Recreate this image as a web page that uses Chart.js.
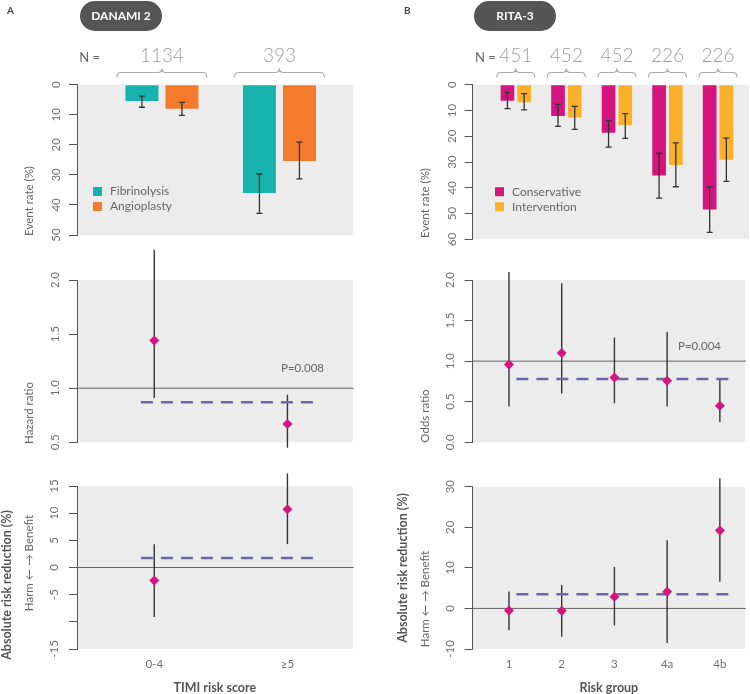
<!DOCTYPE html>
<html><head><meta charset="utf-8">
<script src="https://cdn.jsdelivr.net/npm/chart.js@4.4.1/dist/chart.umd.min.js"></script>
<style>
html,body{margin:0;padding:0;background:#fff}
body{width:750px;height:694px;position:relative;overflow:hidden;font-family:Lato,"Open Sans",sans-serif}
canvas{position:absolute}
.rot{position:absolute;white-space:nowrap;line-height:1;transform:translate(-50%,-50%) rotate(-90deg);color:#666;font-size:11.5px}
.bold{font-weight:bold;color:#555;font-size:12.5px}
.pill{position:absolute;top:1px;height:30px;width:82px;border-radius:15px;background:#555;color:#fff;font-weight:bold;font-size:12px;line-height:30px;text-align:center}
.panel{position:absolute;font-weight:bold;font-size:10px;color:#444}
.p{position:absolute;font-size:11.5px;color:#666;line-height:1}
</style></head>
<body>
<canvas id="barA" width="375" height="260" style="left:0;top:0"></canvas>
<canvas id="hrA" width="375" height="220" style="left:0;top:245px"></canvas>
<canvas id="arrA" width="375" height="229" style="left:0;top:465px"></canvas>
<canvas id="barB" width="375" height="260" style="left:375px;top:0"></canvas>
<canvas id="orB" width="375" height="220" style="left:375px;top:245px"></canvas>
<canvas id="arrB" width="375" height="229" style="left:375px;top:465px"></canvas>

<div class="panel" style="left:7px;top:4px">A</div>
<div class="pill" style="left:80px">DANAMI 2</div>
<div class="panel" style="left:404px;top:4px">B</div>
<div class="pill" style="left:474px">RITA-3</div>

<div class="p" style="left:281px;top:362px">P=0.008</div>
<div class="p" style="left:678px;top:340px">P=0.004</div>

<div class="rot" style="left:29px;top:201px">Event rate (%)</div>
<div class="rot" style="left:29px;top:413px">Hazard ratio</div>
<div class="rot bold" style="left:7px;top:585px">Absolute risk reduction (%)</div>
<div class="rot" style="left:29px;top:563px">Harm ← → Benefit</div>
<div class="rot" style="left:425px;top:203px">Event rate (%)</div>
<div class="rot" style="left:425px;top:416px">Odds ratio</div>
<div class="rot bold" style="left:403px;top:568px">Absolute risk reduction (%)</div>
<div class="rot" style="left:425px;top:599px">Harm ← → Benefit</div>

<script>
// ---------------- DATA ----------------
// Panel A: DANAMI 2
const danamiGroups = ['0-4', '≥5'];
const danamiN = [1134, 393];
const fibrinolysisRate = [5.4, 36.0];
const fibrinolysisLo = [3.8, 29.7];
const fibrinolysisHi = [7.5, 42.8];
const angioplastyRate = [8.0, 25.4];
const angioplastyLo = [5.9, 19.1];
const angioplastyHi = [10.2, 31.3];
const danamiHR = [1.44, 0.67];
const danamiHRLo = [0.91, 0.45];
const danamiHRHi = [2.28, 0.94];
const danamiHRPooled = 0.87;
const danamiARR = [-2.4, 10.7];
const danamiARRLo = [-9.1, 4.3];
const danamiARRHi = [4.3, 17.3];
const danamiARRPooled = 1.75;
const danamiEventTicks = [0, 10, 20, 30, 40, 50];
const danamiEventTickLabels = ['0', '10', '20', '30', '40', '50'];
const danamiHRTicks = [0.5, 1.0, 1.5, 2.0];
const danamiHRTickLabels = ['0.5', '1.0', '1.5', '2.0'];
const danamiARRTicks = [-15, -10, -5, 0, 5, 10, 15];
const danamiARRTickLabels = ['-15', '', '-5', '0', '5', '10', '15'];

// Panel B: RITA-3
const ritaGroups = ['1', '2', '3', '4a', '4b'];
const ritaN = [451, 452, 452, 226, 226];
const conservativeRate = [6.2, 12.1, 18.6, 35.2, 48.4];
const conservativeLo = [3.0, 7.6, 14.0, 26.6, 39.6];
const conservativeHi = [9.3, 16.2, 24.2, 44.0, 57.3];
const interventionRate = [6.8, 12.7, 15.6, 31.2, 29.1];
const interventionLo = [3.5, 8.4, 11.2, 22.6, 20.7];
const interventionHi = [9.8, 17.3, 20.8, 39.6, 37.5];
const ritaOR = [0.96, 1.10, 0.80, 0.76, 0.45];
const ritaORLo = [0.44, 0.60, 0.48, 0.44, 0.25];
const ritaORHi = [2.10, 1.96, 1.29, 1.36, 0.77];
const ritaORPooled = 0.78;
const ritaARR = [-0.5, -0.6, 2.9, 4.1, 19.2];
const ritaARRLo = [-5.4, -7.0, -4.2, -8.5, 6.6];
const ritaARRHi = [4.2, 5.8, 10.2, 16.8, 32.1];
const ritaARRPooled = 3.5;
const ritaEventTicks = [0, 10, 20, 30, 40, 50, 60];
const ritaEventTickLabels = ['0', '10', '20', '30', '40', '50', '60'];
const ritaORTicks = [0.0, 0.5, 1.0, 1.5, 2.0];
const ritaORTickLabels = ['0.0', '0.5', '1.0', '1.5', '2.0'];
const ritaARRTicks = [-10, 0, 10, 20, 30];
const ritaARRTickLabels = ['-10', '0', '10', '20', '30'];

// ---------------- STYLE ----------------
const FONT = 'Lato, "Open Sans", sans-serif';
const TEAL = '#16b3ae', ORANGE = '#f47b2b', MAGENTA = '#d5147f', YELLOW = '#fbb02a';
const POOLED = '#6b68a8';
Chart.defaults.font.family = FONT;
Chart.defaults.font.size = 11.5;
Chart.defaults.color = '#707070';
Chart.defaults.animation = false;

const bgPlugin = {
  id: 'plotBg',
  beforeDraw(chart) {
    const {ctx, chartArea: a} = chart;
    ctx.save();
    ctx.fillStyle = '#ececec';
    ctx.fillRect(a.left, a.top, a.right - a.left, a.bottom - a.top);
    ctx.restore();
  }
};

const errPlugin = {
  id: 'errBars',
  afterDatasetsDraw(chart) {
    const {ctx} = chart, y = chart.scales.y;
    ctx.save();
    ctx.strokeStyle = '#333'; ctx.lineWidth = 1.3;
    chart.data.datasets.forEach((ds, di) => {
      chart.getDatasetMeta(di).data.forEach((bar, i) => {
        const x = bar.x, y1 = y.getPixelForValue(ds.errLo[i]), y2 = y.getPixelForValue(ds.errHi[i]);
        ctx.beginPath();
        ctx.moveTo(x, y1); ctx.lineTo(x, y2);
        ctx.moveTo(x - 3, y1); ctx.lineTo(x + 3, y1);
        ctx.moveTo(x - 3, y2); ctx.lineTo(x + 3, y2);
        ctx.stroke();
      });
    });
    ctx.restore();
  }
};

const insideLegend = {
  id: 'insideLegend',
  afterDraw(chart, args, o) {
    const {ctx, chartArea: a} = chart;
    ctx.save();
    ctx.font = '12px ' + FONT;
    ctx.textBaseline = 'middle'; ctx.textAlign = 'left';
    chart.data.datasets.forEach((ds, i) => {
      const yy = a.top + o.dy + i * 15;
      ctx.fillStyle = ds.backgroundColor;
      ctx.fillRect(a.left + o.dx, yy - 4.5, 9, 9);
      ctx.fillStyle = '#666';
      ctx.fillText(ds.label, a.left + o.dx + 17, yy);
    });
    ctx.restore();
  }
};

const nPlugin = {
  id: 'nLabels',
  afterDraw(chart, args, o) {
    const {ctx, chartArea: a} = chart, x = chart.scales.x;
    ctx.save();
    ctx.textBaseline = 'middle';
    ctx.font = '13px ' + FONT; ctx.fillStyle = '#666'; ctx.textAlign = 'right';
    ctx.fillText('N =', a.left + 23, 58);
    ctx.font = '300 19px ' + FONT; ctx.fillStyle = '#9d9d9d'; ctx.textAlign = 'center';
    ctx.strokeStyle = '#aaa'; ctx.lineWidth = 1.2;
    o.n.forEach((n, i) => {
      const cx = x.getPixelForValue(i + 1);
      ctx.fillText(String(n), cx, 55.5);
      const x0 = cx - o.half, x1 = cx + o.half, yb = 72.5, r = 4;
      ctx.beginPath();
      ctx.moveTo(x0, yb + 5);
      ctx.quadraticCurveTo(x0, yb, x0 + r, yb);
      ctx.lineTo(cx - r, yb);
      ctx.quadraticCurveTo(cx, yb, cx, yb - 4);
      ctx.quadraticCurveTo(cx, yb, cx + r, yb);
      ctx.lineTo(x1 - r, yb);
      ctx.quadraticCurveTo(x1, yb, x1, yb + 5);
      ctx.stroke();
    });
    ctx.restore();
  }
};

const ciPlugin = {
  id: 'ci',
  beforeDatasetsDraw(chart, args, o) {
    const {ctx, chartArea: a} = chart, x = chart.scales.x, y = chart.scales.y;
    ctx.save();
    const ry = y.getPixelForValue(o.ref);
    ctx.strokeStyle = '#666'; ctx.lineWidth = 1;
    ctx.beginPath(); ctx.moveTo(a.left, ry); ctx.lineTo(a.right + 1, ry); ctx.stroke();
    const ds = chart.data.datasets[0];
    ctx.strokeStyle = '#333'; ctx.lineWidth = 1.4;
    ds.data.forEach((p, i) => {
      const px = x.getPixelForValue(p.x);
      ctx.beginPath();
      ctx.moveTo(px, y.getPixelForValue(ds.ciLo[i]));
      ctx.lineTo(px, y.getPixelForValue(ds.ciHi[i]));
      ctx.stroke();
    });
    ctx.restore();
  }
};

function yAxis(ticks, labels, reverse, width) {
  return {
    type: 'linear', min: ticks[0], max: ticks[ticks.length - 1], reverse, offset: false,
    afterBuildTicks: s => { s.ticks = ticks.map(v => ({value: v})); },
    ticks: {autoSkip: false, minRotation: 90, maxRotation: 90, crossAlign: 'center', padding: 6,
            color: '#707070', font: {size: 11.5}, callback: (v, i) => labels[i]},
    grid: {drawOnChartArea: false, drawTicks: true, tickLength: 8, color: '#555', lineWidth: 1},
    border: {display: true, color: '#555', width: 1},
    afterFit: s => { s.width = width; }
  };
}

function barChart(id, c) {
  return new Chart(document.getElementById(id), {
    type: 'bar',
    data: {
      datasets: c.series.map(s => ({
        label: s.label, backgroundColor: s.color, borderWidth: 0,
        data: s.rate.map((v, i) => ({x: i + 1, y: v})),
        errLo: s.lo, errHi: s.hi,
        categoryPercentage: c.catPct, barPercentage: c.barPct
      }))
    },
    options: {
      responsive: false, animation: false, events: [],
      layout: {padding: c.padding},
      plugins: {legend: {display: false}, tooltip: {enabled: false},
                insideLegend: c.legend, nLabels: {n: c.n, half: c.braceHalf}},
      scales: {
        x: {type: 'linear', display: false, offset: false, min: c.xMin, max: c.xMax,
            grid: {offset: false},
            afterBuildTicks: s => { s.ticks = c.groups.map((g, i) => ({value: i + 1})); }},
        y: yAxis(c.ticks, c.tickLabels, true, c.axisW)
      }
    },
    plugins: [bgPlugin, errPlugin, insideLegend, nPlugin]
  });
}

function forestChart(id, c) {
  return new Chart(document.getElementById(id), {
    type: 'scatter',
    data: {
      datasets: [
        {data: c.est.map((v, i) => ({x: i + 1, y: v})), ciLo: c.lo, ciHi: c.hi,
         pointStyle: 'rectRot', pointRadius: 5, backgroundColor: MAGENTA, borderColor: MAGENTA, borderWidth: 0},
        {data: [{x: c.span[0], y: c.pooled}, {x: c.span[1], y: c.pooled}], showLine: true,
         borderColor: POOLED, borderWidth: 2.6, borderDash: [12, 8], pointRadius: 0, fill: false}
      ]
    },
    options: {
      responsive: false, animation: false, events: [],
      layout: {padding: c.padding},
      plugins: {legend: {display: false}, tooltip: {enabled: false}, ci: {ref: c.ref}},
      scales: {
        x: {type: 'linear', display: c.showX, offset: false, min: c.xMin, max: c.xMax,
            afterBuildTicks: s => { s.ticks = c.groups.map((g, i) => ({value: i + 1})); },
            ticks: {autoSkip: false, maxRotation: 0, padding: 8, color: '#707070', font: {size: 11.5},
                    callback: (v, i) => c.groups[i]},
            grid: {display: false, drawTicks: false}, border: {display: false},
            title: {display: !!c.xTitle, text: c.xTitle || '', color: '#555',
                    font: {size: 12.5, weight: 'bold', lineHeight: 1}, padding: {top: 0, bottom: 0}},
            afterFit: s => { if (c.showX) s.height = 45; }},
        y: yAxis(c.ticks, c.tickLabels, false, c.axisW)
      }
    },
    plugins: [bgPlugin, ciPlugin]
  });
}

// ---------------- PANEL A ----------------
barChart('barA', {
  groups: danamiGroups, n: danamiN, braceHalf: 45,
  series: [
    {label: 'Fibrinolysis', color: TEAL, rate: fibrinolysisRate, lo: fibrinolysisLo, hi: fibrinolysisHi},
    {label: 'Angioplasty', color: ORANGE, rate: angioplastyRate, lo: angioplastyLo, hi: angioplastyHi}
  ],
  ticks: danamiEventTicks, tickLabels: danamiEventTickLabels,
  xMin: 0.277, xMax: 2.626, catPct: 0.681, barPct: 0.825, axisW: 77,
  padding: {left: 0, top: 84.7, right: 22, bottom: 25},
  legend: {dx: 16, dy: 106.8}
});
forestChart('hrA', {
  groups: danamiGroups, est: danamiHR, lo: danamiHRLo, hi: danamiHRHi,
  pooled: danamiHRPooled, span: [0.9, 2.21], ref: 1,
  ticks: danamiHRTicks, tickLabels: danamiHRTickLabels,
  xMin: 0.42, xMax: 2.49, axisW: 77, showX: false,
  padding: {left: 0, top: 35, right: 22.3, bottom: 22.7}
});
forestChart('arrA', {
  groups: danamiGroups, est: danamiARR, lo: danamiARRLo, hi: danamiARRHi,
  pooled: danamiARRPooled, span: [0.9, 2.21], ref: 0,
  ticks: danamiARRTicks, tickLabels: danamiARRTickLabels,
  xMin: 0.42, xMax: 2.49, axisW: 77, showX: true, xTitle: 'TIMI risk score',
  padding: {left: 0, top: 21, right: 22.3, bottom: 0}
});

// ---------------- PANEL B ----------------
barChart('barB', {
  groups: ritaGroups, n: ritaN, braceHalf: 19,
  series: [
    {label: 'Conservative', color: MAGENTA, rate: conservativeRate, lo: conservativeLo, hi: conservativeHi},
    {label: 'Intervention', color: YELLOW, rate: interventionRate, lo: interventionLo, hi: interventionHi}
  ],
  ticks: ritaEventTicks, tickLabels: ritaEventTickLabels,
  xMin: 0.147, xMax: 5.613, catPct: 0.661, barPct: 0.82, axisW: 76.7,
  padding: {left: 21, top: 84.7, right: 1, bottom: 20.7},
  legend: {dx: 22.3, dy: 107}
});
forestChart('orB', {
  groups: ritaGroups, est: ritaOR, lo: ritaORLo, hi: ritaORHi,
  pooled: ritaORPooled, span: [1.14, 5.16], ref: 1,
  ticks: ritaORTicks, tickLabels: ritaORTickLabels,
  xMin: 0.312, xMax: 5.477, axisW: 76.7, showX: false,
  padding: {left: 21, top: 35, right: 1, bottom: 22.7}
});
forestChart('arrB', {
  groups: ritaGroups, est: ritaARR, lo: ritaARRLo, hi: ritaARRHi,
  pooled: ritaARRPooled, span: [1.14, 5.16], ref: 0,
  ticks: ritaARRTicks, tickLabels: ritaARRTickLabels,
  xMin: 0.312, xMax: 5.477, axisW: 76.7, showX: true, xTitle: 'Risk group',
  padding: {left: 21, top: 21.7, right: 1, bottom: 0}
});
</script>
</body></html>
